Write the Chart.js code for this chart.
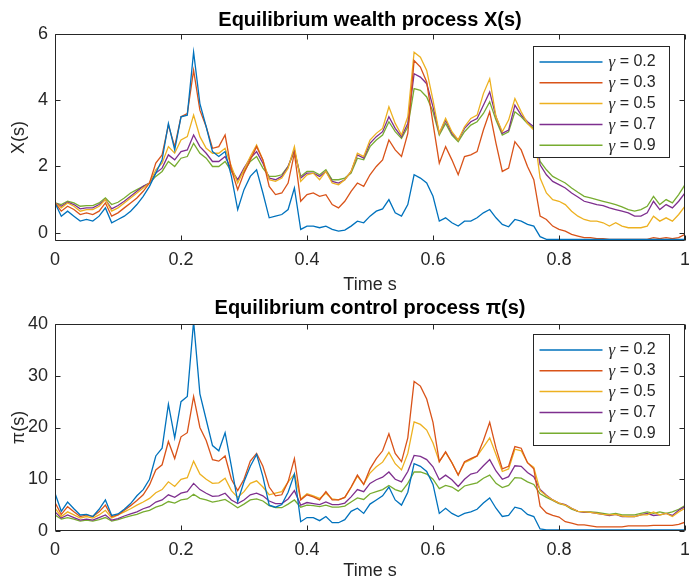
<!DOCTYPE html>
<html><head><meta charset="utf-8">
<script src="https://cdn.jsdelivr.net/npm/chart.js@4.4.0/dist/chart.umd.min.js"></script>
<style>
html,body{margin:0;padding:0;background:#fff;}
#wrap{position:relative;width:689px;height:582px;overflow:hidden;background:#fff;}
canvas{position:absolute;left:0;}
</style></head><body>
<div id="wrap">
<canvas id="c1" width="689" height="296" style="top:0px;width:689px;height:296px"></canvas>
<canvas id="c2" width="689" height="296" style="top:286px;width:689px;height:296px"></canvas>
</div>
<script>
const gammas = [0.2, 0.3, 0.5, 0.7, 0.9];
const seriesColors = ['#0072BD', '#D95319', '#EDB120', '#7E2F8E', '#77AC30'];
const timeGrid = Array.from({length: 101}, (_, i) => i / 100);
const timeTicks = [0, 0.2, 0.4, 0.6, 0.8, 1];
const timeTickLabels = ['0', '0.2', '0.4', '0.6', '0.8', '1'];
const wealthTicks = [0, 2, 4, 6];
const controlTicks = [0, 10, 20, 30, 40];

const wealth_g02 = [0.9,0.5,0.65,0.5,0.35,0.4,0.35,0.5,0.75,0.3,0.4,0.5,0.65,0.85,1.1,1.4,1.8,2.2,3.3,2.5,3.5,3.55,5.45,3.9,3.2,2.45,2.3,2.45,1.7,0.7,1.3,1.7,1.9,1.2,0.45,
0.5,0.55,0.7,1.35,0.1,0.2,0.2,0.15,0.2,0.1,0.05,0.08,0.2,0.35,0.3,0.5,0.65,0.72,1.0,0.6,0.5,0.85,1.75,1.65,1.5,1.1,0.35,0.45,0.3,0.2,0.35,0.35,0.45,
0.6,0.7,0.45,0.25,0.18,0.4,0.35,0.25,0.2,-0.12,-0.2,-0.2,-0.2,-0.2,-0.2,-0.2,-0.2,-0.2,-0.2,-0.2,-0.2,-0.2,-0.2,-0.2,-0.2,-0.2,-0.2,-0.2,-0.2,-0.2,-0.2,-0.2,-0.2];
const wealth_g03 = [0.9,0.65,0.8,0.7,0.55,0.6,0.55,0.65,0.9,0.5,0.6,0.75,0.9,1.05,1.25,1.5,2.1,2.35,3.25,2.6,3.5,3.6,4.9,3.7,3.2,2.55,2.6,2.95,1.9,1.3,1.8,2.2,2.6,2.2,1.4,
1.15,1.2,1.5,2.4,0.95,1.15,1.2,1.1,1.15,0.85,0.75,0.95,1.25,1.5,1.4,1.75,2.0,2.2,2.8,2.5,2.3,3.0,5.2,5.0,4.55,3.3,2.1,2.6,2.2,1.75,2.3,2.35,2.45,
3.1,3.65,2.7,1.85,1.95,2.75,2.5,2.0,1.6,0.5,0.4,0.2,0.1,0.05,-0.05,-0.1,-0.15,-0.15,-0.18,-0.18,-0.2,-0.2,-0.2,-0.2,-0.2,-0.2,-0.2,-0.15,-0.18,-0.15,-0.18,-0.15,-0.05];
const wealth_g05 = [0.9,0.75,0.9,0.8,0.65,0.7,0.7,0.8,1.0,0.65,0.75,0.9,1.05,1.2,1.35,1.5,1.9,2.1,2.6,2.4,2.8,2.9,3.55,2.9,2.55,2.4,2.4,2.55,2.0,1.5,1.9,2.3,2.65,2.2,1.6,
1.55,1.65,1.95,2.6,1.55,1.75,1.8,1.6,1.85,1.5,1.45,1.6,1.85,2.4,2.3,2.8,3.0,3.15,3.8,3.3,2.95,3.5,5.45,5.3,4.9,4.0,3.0,3.45,3.05,2.8,3.2,3.45,3.55,
4.2,4.65,3.5,3.05,3.4,4.05,3.65,3.3,3.1,1.65,1.2,1.0,0.95,0.85,0.65,0.5,0.4,0.35,0.35,0.3,0.2,0.3,0.2,0.15,0.15,0.15,0.2,0.5,0.35,0.45,0.35,0.55,0.8];
const wealth_g07 = [0.9,0.8,0.92,0.85,0.72,0.75,0.75,0.85,1.0,0.72,0.82,0.95,1.1,1.25,1.4,1.5,1.8,1.95,2.35,2.2,2.45,2.5,2.95,2.6,2.4,2.15,2.15,2.3,1.9,1.6,1.95,2.25,2.45,2.1,1.65,
1.6,1.7,2.0,2.5,1.65,1.8,1.8,1.7,1.85,1.55,1.5,1.6,1.85,2.35,2.25,2.7,2.9,3.05,3.5,3.15,2.9,3.3,4.8,4.7,4.5,3.8,3.0,3.4,3.0,2.8,3.15,3.35,3.45,
3.85,4.25,3.5,3.0,3.1,3.85,3.55,3.35,3.2,2.05,1.75,1.55,1.45,1.35,1.2,1.08,0.95,0.9,0.85,0.82,0.75,0.7,0.65,0.6,0.5,0.5,0.6,0.95,0.7,0.85,0.75,0.95,1.2];
const wealth_g09 = [0.9,0.85,0.95,0.9,0.8,0.82,0.82,0.9,1.05,0.85,0.92,1.05,1.2,1.3,1.4,1.5,1.7,1.85,2.15,2.0,2.25,2.3,2.7,2.4,2.25,2.0,2.0,2.15,1.85,1.6,1.85,2.15,2.3,1.95,1.7,
1.7,1.75,2.0,2.45,1.7,1.85,1.85,1.75,1.9,1.6,1.6,1.65,1.8,2.25,2.2,2.6,2.8,2.95,3.35,3.05,2.85,3.2,4.35,4.3,4.1,3.65,2.95,3.3,2.95,2.75,3.05,3.25,3.35,
3.6,3.95,3.4,2.95,3.05,3.65,3.5,3.3,3.15,2.15,1.9,1.7,1.6,1.5,1.35,1.22,1.1,1.05,1.0,0.95,0.9,0.85,0.78,0.7,0.65,0.7,0.8,1.1,0.85,1.0,0.9,1.15,1.45];

const control_g02 = [7.3,3.8,5.6,4.3,3.1,3.2,2.8,4.2,6.0,3.0,3.3,4.2,5.3,6.8,8.0,10.0,14.5,16.0,24.5,18.0,25.0,26.0,40.5,26.5,21.5,16.5,15.5,19.0,12.5,5.7,9.5,12.5,14.8,10.5,5.0,
4.6,5.1,7.5,11.0,1.8,2.6,2.6,2.0,2.8,1.6,1.6,2.2,3.8,4.4,3.4,5.2,6.0,6.8,8.5,6.0,5.0,7.5,13.0,12.5,11.5,9.0,3.4,4.4,3.4,2.8,3.4,3.7,4.2,
5.4,6.4,4.4,2.8,3.0,4.6,4.3,3.2,2.8,0.4,0.2,0.2,0.2,0.2,0.2,0.2,0.2,0.2,0.2,0.2,0.2,0.2,0.2,0.2,0.2,0.2,0.2,0.2,0.2,0.2,0.2,0.2,0.2];
const control_g03 = [5.5,3.2,4.7,3.7,2.8,3.1,2.8,3.7,5.0,2.8,3.1,4.0,4.9,5.9,7.0,8.9,11.8,12.8,17.3,14.0,18.2,19.0,26.0,20.0,17.5,13.8,13.5,14.5,10.0,7.8,10.0,13.5,15.0,12.5,8.5,
6.8,7.0,9.5,14.0,6.0,7.0,6.6,6.0,7.6,6.0,6.0,6.5,8.5,10.8,9.0,12.0,14.0,15.5,18.8,15.0,13.4,18.0,28.9,28.0,25.5,21.0,13.4,15.3,13.2,10.8,13.4,14.0,14.5,
17.5,21.0,16.0,12.0,12.5,16.3,16.0,13.2,12.0,4.8,3.5,3.0,2.7,1.8,1.5,1.2,1.2,1.0,0.8,0.8,0.8,0.8,0.8,1.0,1.0,1.0,1.0,1.1,1.1,1.1,1.1,1.3,1.7];
const control_g05 = [4.4,2.8,3.7,3.1,2.5,2.8,2.5,3.1,4.0,2.5,3.1,3.7,4.3,5.0,5.6,6.3,7.4,8.0,9.5,8.6,10.0,10.3,13.5,11.0,10.0,9.2,9.3,10.2,7.8,6.5,7.6,9.2,9.7,8.5,7.0,
7.3,7.6,9.5,11.0,6.2,7.2,6.8,6.3,7.3,6.2,6.0,6.5,8.4,10.6,9.0,11.2,12.4,13.3,15.2,13.0,11.8,15.0,21.1,20.6,19.5,17.0,13.4,15.2,13.2,10.8,13.2,13.8,14.5,
16.2,18.0,14.8,11.5,12.0,15.8,15.5,13.2,12.3,7.8,6.8,6.0,5.4,5.0,4.4,3.8,3.7,3.6,3.4,3.2,3.1,3.2,2.9,2.8,2.8,3.1,3.1,3.7,3.1,3.4,2.8,3.7,4.4];
const control_g07 = [3.7,2.5,3.1,2.6,2.1,2.3,2.1,2.6,3.1,2.1,2.4,2.9,3.3,3.7,4.3,4.7,5.6,6.0,7.0,6.5,7.3,7.6,9.2,8.0,7.3,6.7,6.8,7.3,6.0,5.3,6.0,7.0,7.3,6.8,5.8,
5.3,5.3,6.2,7.8,5.0,5.5,5.3,5.1,5.6,5.1,5.1,5.4,6.6,8.0,7.6,9.2,9.9,10.4,11.4,10.0,9.5,11.5,14.6,14.4,13.8,12.4,9.9,10.8,9.9,8.6,10.0,11.0,11.3,
12.6,13.8,11.6,10.0,10.5,12.6,12.5,11.3,10.5,8.0,6.9,6.0,5.4,5.1,4.4,3.8,3.6,3.6,3.4,3.2,3.0,3.2,2.8,2.8,2.8,3.1,3.4,3.0,3.1,3.4,3.0,4.0,4.7];
const control_g09 = [3.1,2.3,2.6,2.3,1.9,2.1,1.9,2.2,2.6,1.9,2.2,2.6,2.9,3.2,3.7,4.0,4.6,5.0,5.7,5.4,6.0,6.2,7.1,6.3,6.0,5.6,5.8,6.1,5.3,4.5,5.2,6.0,6.2,5.8,4.9,
4.5,4.5,5.2,6.0,4.6,5.0,4.9,4.7,5.0,4.6,4.6,4.8,5.6,6.4,6.1,7.2,7.6,8.0,8.8,8.0,7.6,9.2,11.4,11.4,11.0,10.0,8.2,8.8,8.5,7.7,8.7,9.0,9.3,
10.2,10.8,9.2,8.4,8.8,10.3,10.2,9.5,9.0,7.2,6.5,5.9,5.3,5.0,4.2,3.8,3.7,3.7,3.6,3.4,3.2,3.4,3.1,3.1,3.1,3.4,3.7,3.4,3.7,3.4,3.7,4.2,4.9];

const FONT = '"Liberation Sans", Arial, Helvetica, sans-serif';
const AXIS_COLOR = '#262626';

const matlabAxes = {
  id: 'matlabAxes',
  afterDatasetsDraw(chart, args, opts) {
    const {ctx, chartArea: a, scales: {x, y}} = chart;
    const L = Math.round(a.left) + 0.5, R = Math.round(a.right) - 0.5;
    const T = Math.round(a.top) + 0.5, B = Math.round(a.bottom) - 0.5;
    ctx.save();
    ctx.strokeStyle = AXIS_COLOR;
    ctx.lineWidth = 1;
    ctx.beginPath();
    ctx.rect(L, T, R - L, B - T);
    const tl = 5;
    x.ticks.forEach(t => {
      const px = Math.round(x.getPixelForValue(t.value)) + 0.5;
      ctx.moveTo(px, B); ctx.lineTo(px, B - tl);
      ctx.moveTo(px, T); ctx.lineTo(px, T + tl);
    });
    y.ticks.forEach(t => {
      const py = Math.round(y.getPixelForValue(t.value)) + 0.5;
      ctx.moveTo(L, py); ctx.lineTo(L + tl, py);
      ctx.moveTo(R, py); ctx.lineTo(R - tl, py);
    });
    ctx.stroke();

    // legend (MATLAB style, north-east inside axes)
    const bw = 136, bh = 111;
    const bx = Math.round(a.right - opts.right - bw) + 0.5;
    const by = Math.round(a.top + opts.top) + 0.5;
    ctx.fillStyle = '#fff';
    ctx.fillRect(bx, by, bw, bh);
    ctx.strokeStyle = AXIS_COLOR;
    ctx.strokeRect(bx, by, bw, bh);
    chart.data.datasets.forEach((ds, k) => {
      const ry = by + 15.5 + k * 20.8;
      ctx.strokeStyle = ds.borderColor;
      ctx.lineWidth = 1.5;
      ctx.beginPath();
      ctx.moveTo(bx + 6, ry); ctx.lineTo(bx + 69, ry);
      ctx.stroke();
      ctx.fillStyle = AXIS_COLOR;
      ctx.textBaseline = 'middle';
      ctx.textAlign = 'left';
      const sym = ds.label.charAt(0), rest = ds.label.slice(1);
      ctx.font = 'italic 17px "Liberation Serif", "DejaVu Serif", serif';
      ctx.fillText(sym, bx + 75, ry + 1);
      const w = ctx.measureText(sym).width;
      ctx.font = '16px ' + FONT;
      ctx.fillText(rest, bx + 75 + w, ry);
    });
    ctx.restore();
  }
};

function makeChart(id, series, yMin, yMax, yTicks, titleText, yTitle, titlePad, xHeight, xTitlePadBottom, legendPos) {
  const datasets = series.map((vals, k) => ({
    label: 'γ = ' + gammas[k],
    data: vals.map((v, i) => ({x: timeGrid[i], y: v})),
    borderColor: seriesColors[k],
    backgroundColor: seriesColors[k],
    borderWidth: 1.3,
    pointRadius: 0,
    tension: 0,
    fill: false
  }));
  return new Chart(document.getElementById(id), {
    type: 'line',
    data: {datasets},
    options: {
      responsive: false,
      animation: false,
      devicePixelRatio: 1,
      layout: {padding: {left: 0, right: 0, top: 0, bottom: 0}},
      plugins: {
        legend: {display: false},
        tooltip: {enabled: false},
        title: {display: true, text: titleText, color: '#000', fullSize: false,
          font: {family: FONT, size: 20, weight: 'bold'}, padding: titlePad},
        matlabAxes: legendPos
      },
      scales: {
        x: {
          type: 'linear', min: 0, max: 1,
          afterBuildTicks: s => { s.ticks = timeTicks.map(v => ({value: v})); },
          afterFit: s => { s.height = xHeight; s.paddingRight = 4; s.paddingLeft = 0; },
          ticks: {callback: (v, i) => timeTickLabels[i], font: {family: FONT, size: 18},
            color: AXIS_COLOR, padding: 8, maxRotation: 0, autoSkip: false},
          grid: {display: false, drawTicks: false},
          border: {display: false},
          title: {display: true, text: 'Time s', font: {family: FONT, size: 18},
            color: AXIS_COLOR, padding: {top: 0, bottom: xTitlePadBottom}}
        },
        y: {
          type: 'linear', min: yMin, max: yMax,
          afterBuildTicks: s => { s.ticks = yTicks.map(v => ({value: v})); },
          afterFit: s => { s.width = 55; },
          ticks: {callback: v => String(v), font: {family: FONT, size: 18},
            color: AXIS_COLOR, padding: 7, autoSkip: false},
          grid: {display: false, drawTicks: false},
          border: {display: false},
          title: {display: true, text: yTitle, font: {family: FONT, size: 18},
            color: AXIS_COLOR, padding: {top: 8, bottom: 0}}
        }
      }
    },
    plugins: [matlabAxes]
  });
}

makeChart('c1', [wealth_g02, wealth_g03, wealth_g05, wealth_g07, wealth_g09],
  -0.25, 6, wealthTicks, 'Equilibrium wealth process X(s)', 'X(s)',
  {top: 8.5, bottom: 1.5}, 55, 0, {right: 16.5, top: 12});
makeChart('c2', [control_g02, control_g03, control_g05, control_g07, control_g09],
  0, 40, controlTicks, 'Equilibrium control process π(s)', 'π(s)',
  {top: 10, bottom: 4}, 51, 0, {right: 16.5, top: 10});
</script>
</body></html>
